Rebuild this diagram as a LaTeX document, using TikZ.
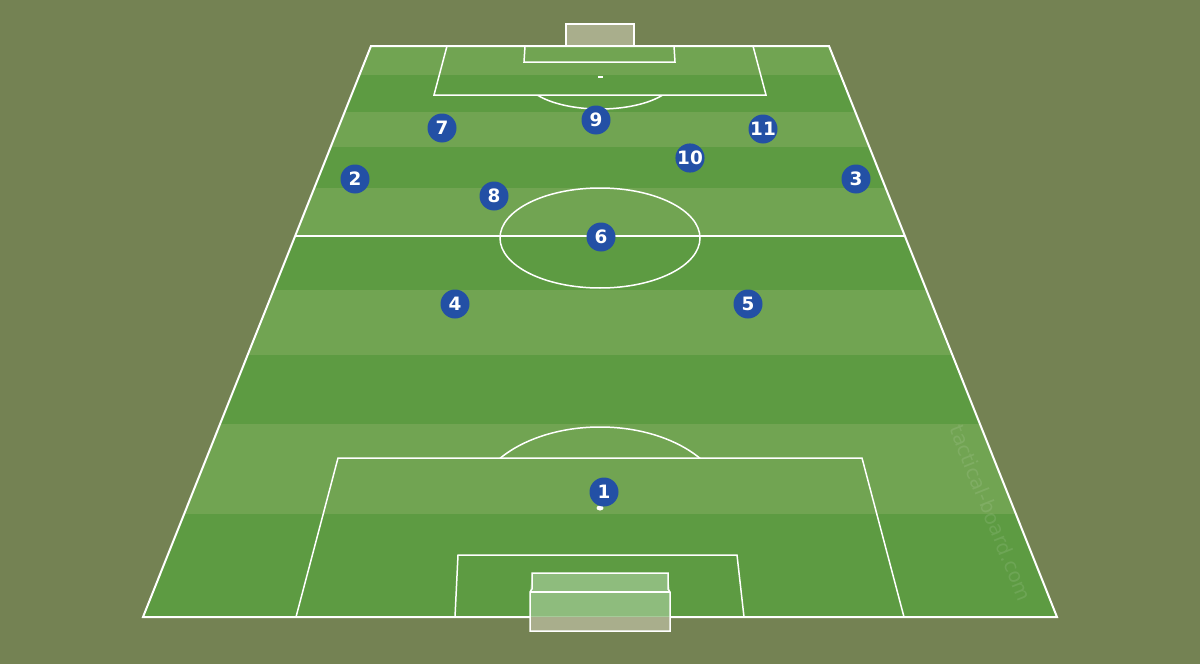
\documentclass[tikz,border=0pt]{standalone}
\usepackage{fontspec}
\newfontfamily\playerfont{DejaVu Sans}
\newfontfamily\markfont{DejaVu Sans}
\definecolor{bgolive}{HTML}{748253}
\definecolor{lightgrass}{HTML}{71A452}
\definecolor{darkgrass}{HTML}{5D9B42}
\definecolor{playerblue}{HTML}{2350A5}
\definecolor{goalgrey}{HTML}{A9AE8C}
\definecolor{netgreen}{HTML}{97C288}
\tikzset{
  pitchline/.style={draw=white, line width=0.75pt},
  outerline/.style={draw=white, line width=1pt},
  player/.style={circle, fill=playerblue, minimum size=14.5pt, inner sep=0pt,
    text=white, font=\playerfont\bfseries\fontsize{9.2}{10}\selectfont},
}
\begin{document}
\begin{tikzpicture}[x=0.5pt, y=-0.5pt]
\useasboundingbox (0,0) rectangle (1200,664);
\fill[bgolive] (0,0) rectangle (1200,664);
% pitch stripes
\begin{scope}
  \clip (371,46) -- (829,46) -- (1057,617) -- (143,617) -- cycle;
  \fill[lightgrass] (0,46) rectangle (1200,75);
  \fill[darkgrass] (0,75) rectangle (1200,112);
  \fill[lightgrass] (0,112) rectangle (1200,147);
  \fill[darkgrass] (0,147) rectangle (1200,188);
  \fill[lightgrass] (0,188) rectangle (1200,236);
  \fill[darkgrass] (0,236) rectangle (1200,290);
  \fill[lightgrass] (0,290) rectangle (1200,355);
  \fill[darkgrass] (0,355) rectangle (1200,424);
  \fill[lightgrass] (0,424) rectangle (1200,514);
  \fill[darkgrass] (0,514) rectangle (1200,617);
  % watermark
  \node[rotate=-68.2, text=white, text opacity=0.1, font=\markfont\fontsize{10}{11}\selectfont] (mark) at (991,513) {tactical-board.com};
\end{scope}
% top goal
\draw[fill=goalgrey, draw=white, line width=0.75pt] (566,46) -- (566,24) -- (634,24) -- (634,46);
% outline
\draw[outerline] (371,46) -- (829,46) -- (1057,617) -- (143,617) -- cycle;
% halfway line and centre circle
\draw[pitchline] (295,236) -- (905,236);
\draw[pitchline] (600,238) ellipse [x radius=100, y radius=50];
% top penalty area
\draw[pitchline] (447,46) -- (434,95) -- (766,95) -- (753,46);
\draw[pitchline] (525,46) -- (524,62) -- (675,62) -- (674,46);
\fill[white] (597.5,76) rectangle (602.5,78);
\begin{scope}
  \clip (0,95) rectangle (1200,200);
  \draw[pitchline] (600,77) ellipse [x radius=76, y radius=32];
\end{scope}
% bottom penalty area
\draw[pitchline] (296,617) -- (338,458) -- (862,458) -- (904,617);
\draw[pitchline] (455,617) -- (458,555) -- (737,555) -- (744,617);
\fill[white] (600,508) ellipse [x radius=3.5, y radius=2.5];
\begin{scope}
  \clip (0,300) rectangle (1200,458);
  \draw[pitchline] (600,507) ellipse [x radius=126, y radius=80];
\end{scope}
% bottom goal
\fill[netgreen, opacity=0.85] (532,573) -- (668,573) -- (670,592) -- (670,617) -- (530,617) -- (530,592) -- cycle;
\fill[goalgrey] (530,617) rectangle (670,631);
\draw[pitchline] (530,631) -- (530,592) -- (532,589) -- (532,573) -- (668,573) -- (668,589) -- (670,592) -- (670,631) -- cycle;
\draw[pitchline] (530,592) -- (670,592);
% players
\node[player] (p1) at (604,492) {1};
\node[player] (p2) at (355,179) {2};
\node[player] (p3) at (856,179) {3};
\node[player] (p4) at (455,304) {4};
\node[player] (p5) at (748,304) {5};
\node[player] (p6) at (601,237) {6};
\node[player] (p7) at (442,128) {7};
\node[player] (p8) at (494,196) {8};
\node[player] (p9) at (596,120) {9};
\node[player] (p10) at (690,158) {10};
\node[player] (p11) at (763,129) {11};
\end{tikzpicture}
\end{document}
